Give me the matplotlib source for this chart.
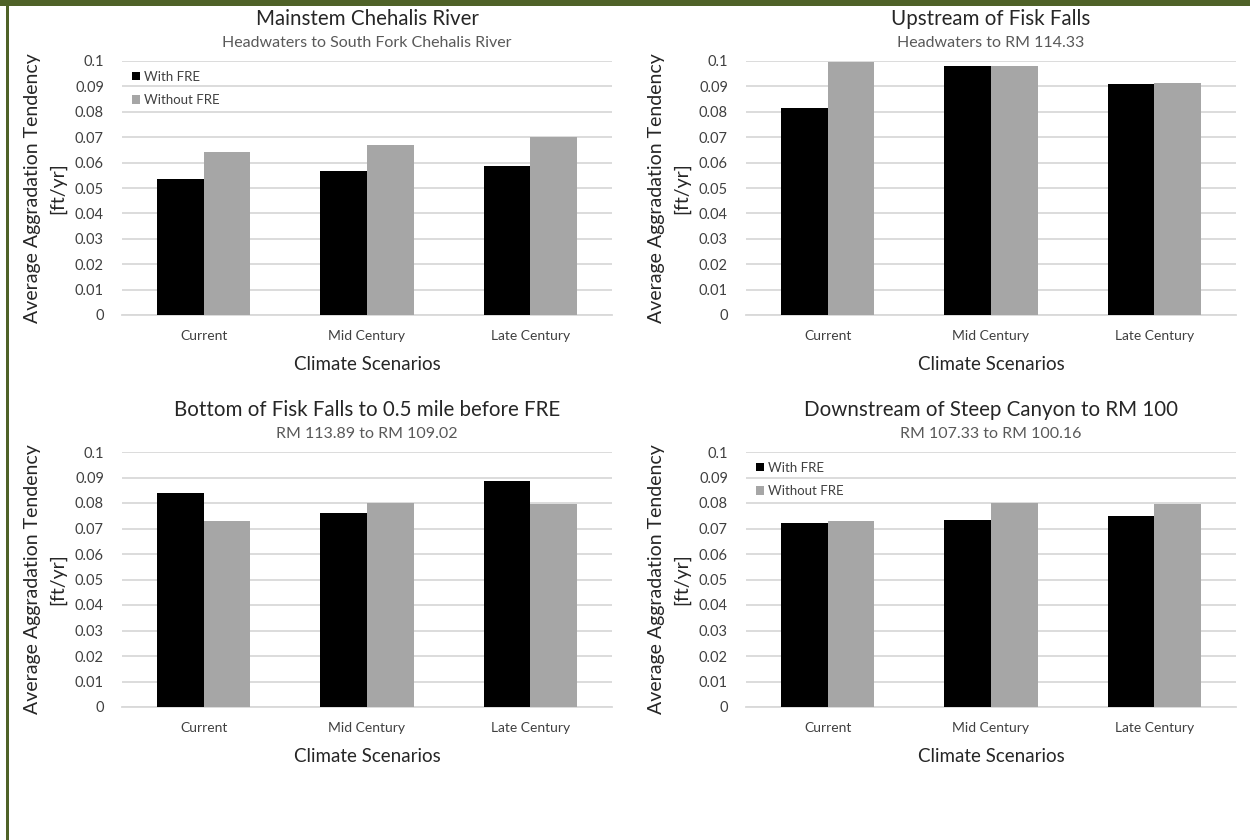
import matplotlib
matplotlib.use("Agg")
import matplotlib.pyplot as plt
from matplotlib.patches import Rectangle
import numpy as np

plt.rcParams['font.family'] = ['Lato', 'DejaVu Sans']

scenarios = ["Current", "Mid Century", "Late Century"]
series_names = ["With FRE", "Without FRE"]

titles = [
    "Mainstem Chehalis River",
    "Upstream of Fisk Falls",
    "Bottom of Fisk Falls to 0.5 mile before FRE",
    "Downstream of Steep Canyon to RM 100",
]
subtitles = [
    "Headwaters to South Fork Chehalis River",
    "Headwaters to RM 114.33",
    "RM 113.89 to RM 109.02",
    "RM 107.33 to RM 100.16",
]

mainstem_with = [0.0535, 0.0568, 0.0588]
mainstem_without = [0.0643, 0.0668, 0.0702]
upstream_with = [0.0815, 0.0979, 0.0910]
upstream_without = [0.0998, 0.0979, 0.0913]
fisk_with = [0.0841, 0.0762, 0.0885]
fisk_without = [0.0730, 0.0800, 0.0795]
canyon_with = [0.0720, 0.0733, 0.0748]
canyon_without = [0.0730, 0.0800, 0.0795]

panel_with = [mainstem_with, upstream_with, fisk_with, canyon_with]
panel_without = [mainstem_without, upstream_without, fisk_without, canyon_without]
show_legend = [True, False, False, True]

yticks = [0, 0.01, 0.02, 0.03, 0.04, 0.05, 0.06, 0.07, 0.08, 0.09, 0.1]
ytick_labels = ["0", "0.01", "0.02", "0.03", "0.04", "0.05", "0.06", "0.07", "0.08", "0.09", "0.1"]

W, H = 1250, 840
fig = plt.figure(figsize=(W / 100, H / 100), dpi=100)
fig.patch.set_facecolor("white")

# dark green frame: band along the top, thin rule on the left
frame_green = "#4f6228"
fig.add_artist(Rectangle((0, (H - 6) / H), 1, 6 / H, transform=fig.transFigure,
                         facecolor=frame_green, edgecolor="none", zorder=10))
fig.add_artist(Rectangle((6 / W, 0), 2.5 / W, 1, transform=fig.transFigure,
                         facecolor=frame_green, edgecolor="none", zorder=10))

ax_w = 490
lefts = [122, 746, 122, 746]
tops = [61, 61, 452, 452]
bottoms = [315, 315, 707, 707]

black = "#000000"
gray = "#a6a6a6"
grid_c = "#d9d9d9"
bar_w = 1 / 3.5
x = np.arange(len(scenarios))

for i in range(4):
    left = lefts[i] / W
    bottom = (H - bottoms[i]) / H
    ax_h = bottoms[i] - tops[i]
    ax = fig.add_axes([left, bottom, ax_w / W, ax_h / H])

    h1 = ax.bar(x - bar_w / 2, panel_with[i], width=bar_w, color=black,
                zorder=3, label=series_names[0])
    h2 = ax.bar(x + bar_w / 2, panel_without[i], width=bar_w, color=gray,
                zorder=3, label=series_names[1])

    ax.set_xlim(-0.5, 2.5)
    ax.set_ylim(0, 0.1)
    ax.set_yticks(yticks)
    ax.set_yticklabels(ytick_labels, fontsize=10.5, color="#404040")
    ax.set_xticks(x)
    ax.set_xticklabels(scenarios, fontsize=10, color="#404040")
    ax.tick_params(axis="both", length=0)
    ax.tick_params(axis="y", pad=13)
    ax.tick_params(axis="x", pad=11)
    ax.yaxis.grid(True, color=grid_c, linewidth=1.3, zorder=0)
    ax.set_axisbelow(True)
    for side in ("left", "right", "top"):
        ax.spines[side].set_visible(False)
    ax.spines["bottom"].set_color(grid_c)
    ax.spines["bottom"].set_linewidth(1.3)

    ax.set_xlabel("Climate Scenarios", fontsize=13.5, color="#262626", labelpad=10)
    ax.set_ylabel("Average Aggradation Tendency\n[ft/yr]", fontsize=14,
                  color="#262626", linespacing=1.55, labelpad=6)

    ax.text(0.5, 1.0 + 42 / ax_h, titles[i], transform=ax.transAxes,
            ha="center", va="center", fontsize=14.8, color="#262626")
    ax.text(0.5, 1.0 + 18 / ax_h, subtitles[i], transform=ax.transAxes,
            ha="center", va="center", fontsize=11.5, color="#595959")

    if show_legend[i]:
        ax.legend(handles=[h1, h2], loc="upper left", bbox_to_anchor=(0.0, 1.0),
                  frameon=False, fontsize=9.5, handlelength=0.6, handleheight=0.6,
                  handletextpad=0.35, labelspacing=0.85, borderaxespad=0.35,
                  labelcolor="#404040")

fig.savefig("out.png", dpi=100, facecolor="white")
